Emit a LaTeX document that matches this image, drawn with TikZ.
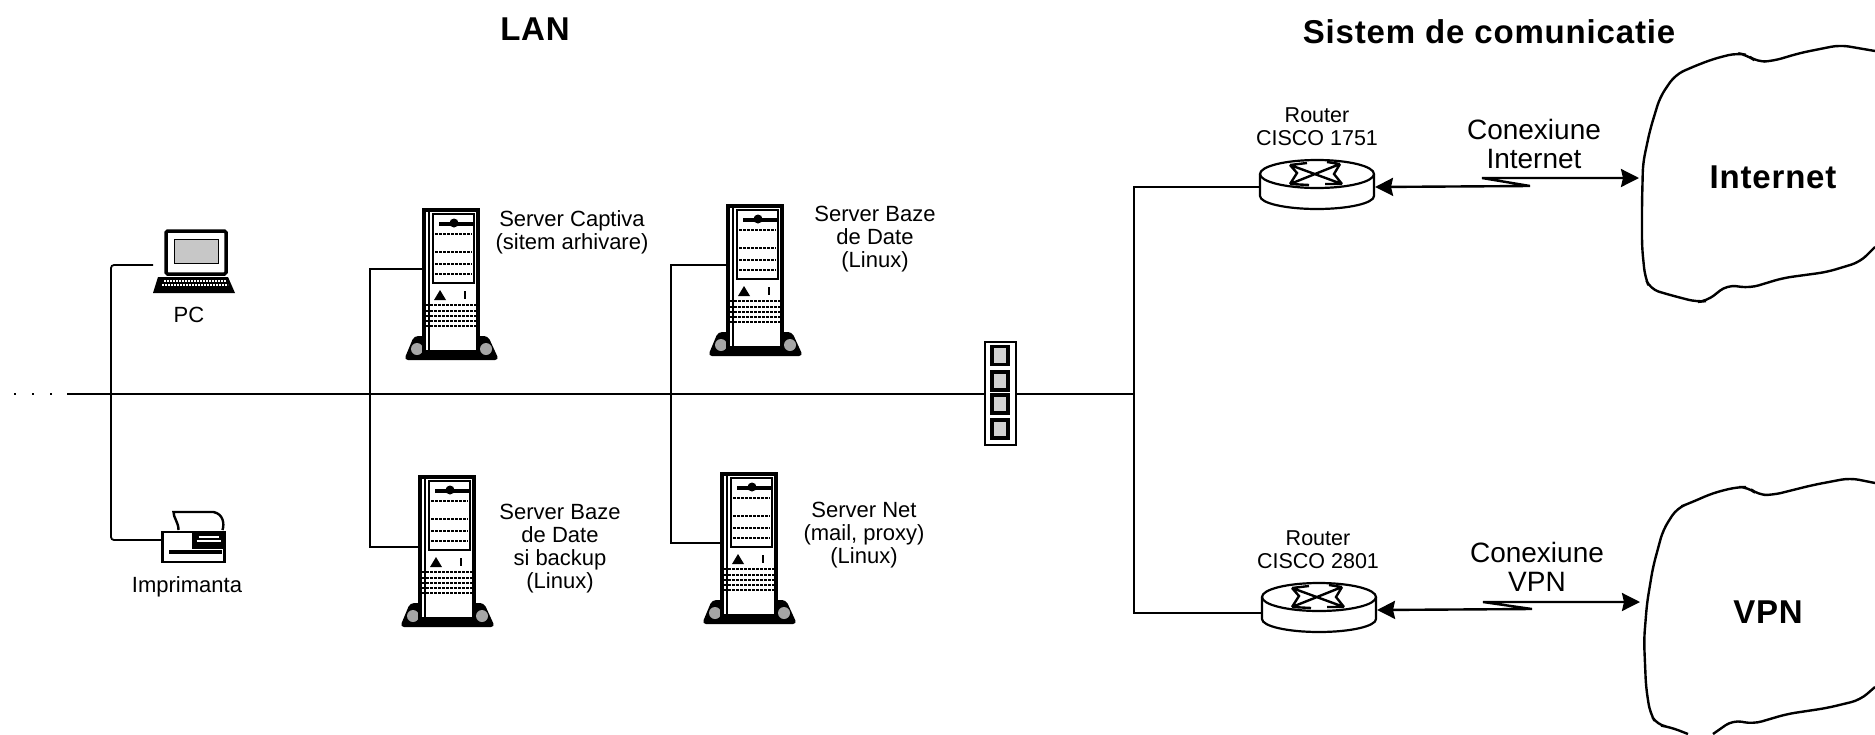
\documentclass[tikz,border=0pt]{standalone}
\usepackage{fontspec}
\setmainfont{Liberation Sans}
\usetikzlibrary{arrows.meta, positioning}

\tikzset{
  lbl/.style={align=center, inner sep=0pt, font=\fontsize{22}{23}\selectfont},
  lblrtr/.style={align=center, inner sep=0pt, font=\fontsize{21.5}{23}\selectfont},
  lblconn/.style={align=center, inner sep=0pt, font=\fontsize{28}{29}\selectfont},
  title/.style={inner sep=0pt, font=\fontsize{33}{36}\selectfont\bfseries\addfontfeatures{LetterSpace=2.5}},
  wire/.style={draw, line width=1.8pt},
  link/.style={draw, line width=2.4pt, {Stealth[length=18pt,width=18pt,inset=2pt]}-{Stealth[length=18pt,width=18pt,inset=2pt]}},
  cloudline/.style={draw, line width=2.4pt},
  hitbox/.style={inner sep=0pt, outer sep=0pt, rectangle},
  pcbox/.style={hitbox, minimum width=84pt, minimum height=64pt},
  prnbox/.style={hitbox, minimum width=64pt, minimum height=52pt},
  srvbox/.style={hitbox, minimum width=58pt, minimum height=150pt},
  rtrbox/.style={hitbox, minimum width=116pt, minimum height=50pt},
  swbox/.style={draw, line width=2.6pt, fill=white, inner sep=0pt, minimum width=31pt, minimum height=103pt},
  swport/.style={draw, line width=3.4pt, fill=black!18, inner sep=0pt, minimum width=16pt, minimum height=18pt},
  % server tower
  srvtower/.pic={
    \fill[rounded corners=4pt] (-37,52) -- (37,52) -- (48,76) -- (-47,76) -- cycle;
    \fill[black!35] (-34,65) circle (6pt) (35,65) circle (6pt);
    \draw[line width=4.5pt, fill=white] (-27,-74) rectangle (27,68);
    \draw[line width=1.6pt] (-22,-72) -- (-22,68);
    \draw[line width=2.6pt] (-18,-70) rectangle (23,-1);
    \fill (-12,-62) rectangle (22,-58);
    \fill (3,-61) circle (4.5pt);
    \foreach \yy in {-50,-32,-20,-10}
      \draw[line width=1.8pt, dash pattern=on 2.5pt off 1.5pt] (-16,\yy) -- (21,\yy);
    \fill (-11,6) -- (-5,16) -- (-17,16) -- cycle;
    \fill (13,7) rectangle (15,15);
    \foreach \yy in {21,27,32,37,42}
      \draw[line width=1.6pt, dash pattern=on 3pt off 1pt] (-25,\yy) -- (25,\yy);
  },
  % router, top disc and body
  rtrdisc/.pic={
    \draw[line width=2.2pt, fill=white] (-57,-11) -- (-57,11) arc[start angle=180, end angle=360, x radius=57, y radius=-13] -- (57,-11);
    \draw[line width=2.2pt, fill=white] (0,-11) ellipse[x radius=57, y radius=14];
    \draw[line width=2.4pt] (-27,-20) -- (-20,-12) -- (-27,-1) (-27,-20) -- (-10,-22)
                          (23,-21) -- (17,-11) -- (25,-1) (23,-21) -- (10,-23)
                          (-27,-1) -- (23,-21) (-27,-20) -- (25,-1) (-27,-1) -- (-8,0) (25,-1) -- (8,-1);
  },
  % desktop terminal
  pcset/.pic={
    \draw[line width=3.5pt, fill=white, rounded corners=1.5pt] (-29,-34) rectangle (31,9);
    \draw[line width=1pt, fill=black!22] (-21,-26) rectangle (23,-2);
    \fill (-37,12) -- (33,12) -- (40,28) -- (-42,28) -- cycle;
    \draw[line width=1.5pt, white, dash pattern=on 2pt off 1pt] (-31,16) -- (31,16) (-33,20) -- (33,20);
  },
  % printer
  prnset/.pic={
    \draw[line width=2.4pt, fill=white] (-15,-10) .. controls (-15,-18) and (-20,-22) .. (-20,-28)
      -- (20,-28) .. controls (30,-26) and (31,-16) .. (29,-10);
    \draw[line width=2.6pt, fill=white] (-31,-8) rectangle (31,22);
    \fill (-2,-8) rectangle (31,9);
    \draw[line width=2pt, white] (3,1) -- (27,1);
    \draw[line width=1.2pt, white] (5,-3) -- (25,-3);
    \fill (-25,10) rectangle (28,14);
  }
}

\begin{document}
\begin{tikzpicture}[x=1pt, y=-1pt]
  \useasboundingbox (0,0) rectangle (1875,734);

  \node[title] (lantitle) at (535,29) {LAN};
  \node[title] (comtitle) at (1489,32) {Sistem de comunicatie};

  % devices
  \node[pcbox] (pc) at (195,265) {};
  \node[prnbox] (prn) at (193.5,540) {};
  \node[srvbox] (srvcaptiva) at (451,284) {};
  \node[srvbox] (srvbackup) at (447,551) {};
  \node[srvbox] (srvbaze) at (755,280) {};
  \node[srvbox] (srvnet) at (749,548) {};
  \node[rtrbox] (rtrinet) at (1317,185) {};
  \node[rtrbox] (rtrvpn) at (1319,608) {};

  % junctions on the backbone
  \coordinate (busstart) at (67,394);
  \coordinate (dotstart) at (14,394);
  \coordinate (tappc) at (111,394);
  \coordinate (tapcaptiva) at (370,394);
  \coordinate (tapbaze) at (671,394);
  \coordinate (taprtr) at (1134,394);

  \draw[wire, dash pattern=on 2pt off 16pt] (dotstart) -- (busstart);
  \draw[wire] (busstart) -- (taprtr);
  \draw[wire, rounded corners=3pt] (pc.west) -| (tappc) |- (prn.west);
  \draw[wire] ([yshift=15pt]srvcaptiva.west) -| (tapcaptiva) |- ([yshift=4pt]srvbackup.west);
  \draw[wire] ([yshift=15pt]srvbaze.west) -| (tapbaze) |- ([yshift=5pt]srvnet.west);
  \draw[wire] ([yshift=-2pt]rtrinet.west) -| (taprtr) |- ([yshift=-5pt]rtrvpn.west);

  \node[swbox] (sw) at (1000.5,393.5) {};
  \foreach \i/\yy in {1/355.5, 2/381, 3/404, 4/429}
    \node[swport] (swp\i) at (1000,\yy) {};

  \pic at (pc) {pcset};
  \pic at (prn) {prnset};
  \pic at (srvcaptiva) {srvtower};
  \pic at (srvbackup) {srvtower};
  \pic at (srvbaze) {srvtower};
  \pic at (srvnet) {srvtower};
  \pic at (rtrinet) {rtrdisc};
  \pic at (rtrvpn) {rtrdisc};

  % labels
  \node[lbl] (lblpc) at (189,315) {PC};
  \node[lbl] (lblprn) at (187,587) {Imprimanta};
  \node[lbl] (lblcaptiva) at (572,232) {Server Captiva\\(sitem arhivare)};
  \node[lbl] (lblbaze) at (875,239) {Server Baze\\de Date\\(Linux)};
  \node[lbl] (lblbackup) at (560,549) {Server Baze\\de Date\\si backup\\(Linux)};
  \node[lbl] (lblnet) at (864,535) {Server Net\\(mail, proxy)\\(Linux)};
  \node[lblrtr] (lblrtrinet) at (1317,127) {Router\\CISCO 1751};
  \node[lblrtr] (lblrtrvpn) at (1318,550) {Router\\CISCO 2801};
  \node[lblconn] (lblconninet) at (1534,144) {Conexiune\\Internet};
  \node[lblconn] (lblconnvpn) at (1537,567) {Conexiune\\VPN};

  % clouds
  \draw[cloudline, rounded corners=9pt] (1875,51) -- (1840,45) -- (1800,53) -- (1773,61) -- (1757,62) -- (1747,55)
    -- (1737,53) -- (1713,59) -- (1690,68) -- (1675,75) -- (1660,97) -- (1650,130) -- (1643,163) -- (1642,203)
    -- (1642,247) -- (1645,277) -- (1650,289) -- (1670,295) -- (1697,302) -- (1707,301) -- (1727,285) -- (1750,288)
    -- (1783,278) -- (1827,272) -- (1860,262) -- (1875,247);
  \draw[cloudline, rounded corners=9pt] (1875,483) -- (1850,478) -- (1813,485) -- (1773,495) -- (1758,495) -- (1748,487)
    -- (1737,487) -- (1713,493) -- (1690,503) -- (1677,508) -- (1663,530) -- (1653,567) -- (1647,603) -- (1644,640)
    -- (1646,687) -- (1650,713) -- (1657,725) -- (1670,727) -- (1688,734);
  \draw[cloudline, rounded corners=9pt] (1713,734) -- (1733,720) -- (1753,724) -- (1787,714) -- (1827,708) -- (1860,700) -- (1875,687);
  \node[title] (inet) at (1773,177) {Internet};
  \node[title] (vpn) at (1768,612) {VPN};

  % links with the lightning kink
  \coordinate (inetport) at (1639,178);
  \coordinate (vpnport) at (1640,602);
  \coordinate (kinkinetA) at (1530,186);
  \coordinate (kinkinetB) at (1482,178);
  \coordinate (kinkvpnA) at (1532,609);
  \coordinate (kinkvpnB) at (1483,602);
  \draw[link] ([yshift=-2pt]rtrinet.east) -- (kinkinetA) -- (kinkinetB) -- (inetport);
  \draw[link] ([yshift=-2pt]rtrvpn.east) -- (kinkvpnA) -- (kinkvpnB) -- (vpnport);
\end{tikzpicture}
\end{document}
